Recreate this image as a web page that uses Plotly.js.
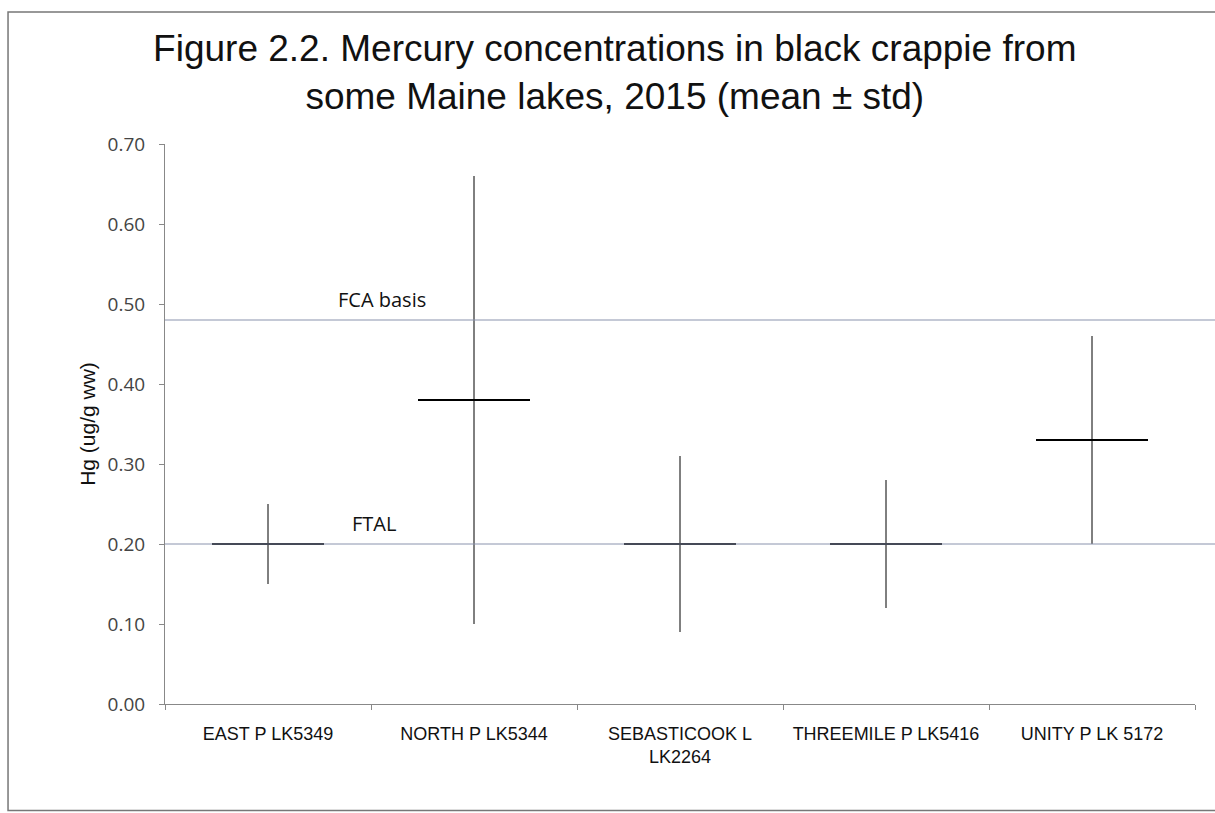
<!DOCTYPE html>
<html>
<head>
<meta charset="utf-8">
<script src="https://cdn.plot.ly/plotly-3.0.1.min.js"></script>
<style>html,body{margin:0;padding:0;background:#fff;}#chart{width:1215px;height:813px;}</style>
</head>
<body>
<div id="chart"></div>
<script>
const lakes = ["EAST P LK5349", "NORTH P LK5344", "SEBASTICOOK L<br>LK2264", "THREEMILE P LK5416", "UNITY P LK 5172"];
const meanHg = [0.20, 0.38, 0.20, 0.20, 0.33];
const stdPlus = [0.05, 0.28, 0.11, 0.08, 0.13];
const stdMinus = [0.05, 0.28, 0.11, 0.08, 0.13];
const refNames = ["FCA basis", "FTAL"];
const refLevels = [0.48, 0.20];
const yTicks = [0, 0.1, 0.2, 0.3, 0.4, 0.5, 0.6, 0.7];

const sans = "Liberation Sans, Arial, sans-serif";

const trace = {
  type: "scatter",
  mode: "markers",
  x: lakes,
  y: meanHg,
  marker: {symbol: "line-ew", size: 80, line: {color: "#000", width: 2}, color: "#000"},
  error_y: {type: "data", symmetric: false, array: stdPlus, arrayminus: stdMinus, color: "#000", thickness: 1, width: 0},
  showlegend: false,
  hoverinfo: "x+y"
};

const shapes = refLevels.map(v => ({
  type: "line", xref: "paper", yref: "y", x0: 0, x1: 1.02, y0: v, y1: v,
  line: {color: "#8a93ad", width: 1}
}));
shapes.push({type: "rect", xref: "paper", yref: "paper", x0: -0.1524, x1: 1.03, y0: -0.19, y1: 1.2357,
  line: {color: "#777", width: 1.5}, layer: "below"});

const annotations = refNames.map((n, i) => ({
  text: n, xref: "paper", yref: "y", x: i === 0 ? 0.2102 : 0.2029, y: refLevels[i],
  xanchor: "center", yanchor: "bottom", yshift: 5, showarrow: false,
  font: {family: "Open Sans, sans-serif", size: 20, color: "#111"}
}));

const layout = {
  width: 1215, height: 813,
  margin: {l: 165, r: 20, t: 144, b: 109},
  paper_bgcolor: "#fff", plot_bgcolor: "#fff",
  title: {
    text: "Figure 2.2. Mercury concentrations in black crappie from<br>some Maine lakes, 2015 (mean ± std)",
    font: {family: sans, size: 37, color: "#111"},
    x: 0.506, xref: "container", xanchor: "center", y: 0.925, yref: "container", yanchor: "top"
  },
  xaxis: {
    type: "category", showgrid: false, zeroline: false,
    showline: true, linecolor: "#888", linewidth: 1,
    ticks: "outside", tickson: "boundaries", ticklen: 5, tickcolor: "#888",
    ticklabelstandoff: 13,
    tickfont: {family: sans, size: 18, color: "#111"},
    range: [-0.5, 4.5]
  },
  yaxis: {
    range: [0, 0.7], tickvals: yTicks, tickformat: ".2f",
    showgrid: false, zeroline: false,
    showline: true, linecolor: "#888", linewidth: 1,
    ticks: "outside", ticklen: 5, tickcolor: "#888",
    ticklabelstandoff: 10,
    tickfont: {family: "Open Sans, sans-serif", size: 19, color: "#444"},
    title: {text: "Hg (ug/g ww)", font: {family: sans, size: 21, color: "#111"}, standoff: 6}
  },
  shapes: shapes,
  annotations: annotations
};

Plotly.newPlot("chart", [trace], layout, {displayModeBar: false});
</script>
</body>
</html>
